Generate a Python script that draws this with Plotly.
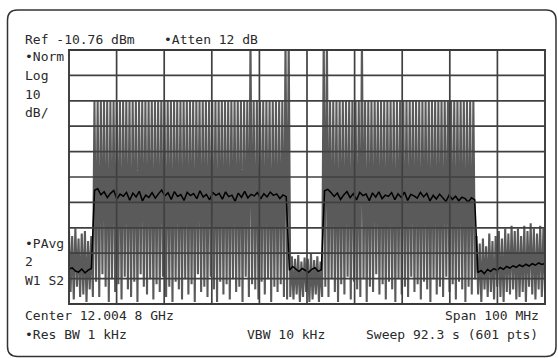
import numpy as np
import plotly.graph_objects as go

# Analyzer settings shown on screen
center_ghz = 12.0048
span_ghz = 0.100
ref_dbm = -10.76
db_per_div = 10
n_div = 10

# Peak-hold trace, one (peak, valley) pair per display bin, dBm
peak_dbm = [
    -82, -84, -81, -85, -83, -82, -86, -84,
    -30.8, -30.8, -30.8, -30.8, -30.8, -30.8, -30.8, -30.8, -30.8, -30.8,
    -30.8, -30.8, -30.8, -30.8, -30.8, -30.8, -30.8, -30.8, -30.8, -30.8,
    -30.8, -30.8, -30.8, -30.8, -30.8, -30.8, -30.8, -30.8, -30.8, -30.8,
    -30.8, -30.8, -30.8, -30.8, -30.8, -30.8, -30.8, -30.8, -30.8, -30.8,
    -30.8, -30.8, -30.8, -30.8, -30.8, -30.8, -30.8, -30.8, -30.8, -6,
    -30.8, -30.8, -30.8, -30.8, -30.8, -30.8, -30.8, -30.8, -30.8, -30.8,
    -6,
    -6,
    -92, -93, -91.5, -94, -92.5, -93, -91, -93.5, -92, -94,
    -6, -6,
    -30.8, -30.8, -30.8, -30.8, -30.8, -30.8, -30.8, -30.8, -30.8, -30.8,
    -6,
    -30.8, -30.8, -30.8, -30.8, -30.8, -30.8, -30.8, -30.8, -30.8, -30.8,
    -30.8, -30.8, -30.8, -30.8, -30.8, -30.8, -30.8, -30.8, -30.8, -30.8,
    -30.8, -30.8, -30.8, -30.8, -30.8, -30.8, -30.8, -30.8, -30.8, -30.8,
    -30.8, -30.8, -30.8, -30.8, -30.8,
    -84, -87, -85, -88, -83, -86, -84, -82, -85, -81, -83,
    -80, -82, -81, -84, -80, -82, -79, -81, -83, -80, -81,
]

valley_dbm = [
    -106, -109, -104, -108, -107, -110, -105, -108,
    -102, -108, -99, -104, -110, -101, -106, -103, -109, -100,
    -105, -108, -102, -110, -99, -104, -107, -101, -109, -103,
    -106, -100, -108, -104, -110, -102, -105, -109, -101, -107,
    -103, -110, -99, -106, -104, -108, -100, -105, -110, -102,
    -107, -103, -109, -101, -106, -104, -110, -100, -108, -103,
    -105, -109, -102, -107, -101, -110, -104, -106, -103, -108,
    -109,
    -108,
    -109, -107, -110, -108, -106, -110, -109, -107, -110, -108,
    -104, -108, -101, -106, -110, -103, -107, -100, -109, -102,
    -105, -108, -101, -110, -104, -106, -99, -107, -103, -109,
    -102, -105, -110, -101, -107, -104, -108, -100, -106, -103,
    -109, -102, -105, -110, -101, -107, -104, -108, -100, -106,
    -103, -109, -102, -105, -110, -104, -107, -101,
    -107, -110, -105, -108, -106, -109, -104, -108, -110, -106, -107,
    -105, -109, -108, -106, -110, -104, -107, -109, -105, -108, -106,
]

# Power-averaged trace (W1 S2), dBm per display bin
avg_dbm = [
    -97.0, -96.5, -97.8, -98.2, -97.0, -98.5, -97.4, -96.8,
    -66.0, -65.4, -67.8, -66.6, -68.9, -67.2, -66.1, -69.4, -67.5, -68.3,
    -66.8, -69.9, -67.1, -68.6, -66.4, -70.2, -67.9, -68.8, -66.9, -69.1,
    -67.4, -65.9, -68.2, -67.0, -69.6, -66.5, -68.4, -67.7, -70.0, -66.8,
    -68.1, -67.3, -69.3, -66.2, -68.7, -67.6, -69.8, -66.9, -68.0, -67.2,
    -69.5, -66.6, -68.5, -67.9, -70.3, -67.1, -68.8, -66.4, -69.0, -67.6,
    -68.2, -66.9, -69.4, -67.3, -68.6, -66.7, -68.0, -67.4, -69.2, -67.8,
    -68.5,
    -97.5, -96.0, -97.2, -98.0, -96.8, -97.6, -98.3, -97.1, -96.5, -97.9, -97.3,
    -66.2, -65.6, -66.9, -68.4, -67.1, -69.6, -67.8, -66.5, -68.9, -67.3,
    -69.8, -66.8, -68.1, -67.5, -70.1, -67.0, -68.7, -66.6, -69.3, -67.9,
    -68.4, -66.9, -69.7, -67.4, -68.8, -66.7, -70.0, -67.6, -68.2, -69.1,
    -66.8, -68.6, -67.2, -70.2, -68.0, -69.4, -67.5, -68.9, -70.4, -67.8,
    -69.6, -68.3, -70.1, -68.7, -69.3, -70.6, -68.9, -69.8,
    -98.4, -97.6, -98.8, -97.2, -97.9, -96.8, -97.5, -96.4, -97.1, -96.0, -96.6,
    -95.7, -96.3, -95.4, -96.0, -95.1, -95.8, -94.9, -95.5, -94.6, -95.2, -94.8,
]

W, H = 558, 358
L, R, T, B = 69, 13, 50, 54
PW, PH = W - L - R, H - T - B
FONT = "DejaVu Sans Mono"
INK = "#2a2a2a"
GRID = "#404040"

n_bins = len(peak_dbm)
f_lo, f_hi = center_ghz - span_ghz / 2, center_ghz + span_ghz / 2

# zig-zag peak/valley sweep points
zig_x = np.linspace(f_lo, f_hi, 2 * n_bins)
zig_y = np.empty(2 * n_bins)
zig_y[0::2] = peak_dbm
zig_y[1::2] = valley_dbm
avg_x = np.linspace(f_lo, f_hi, len(avg_dbm))

fig = go.Figure()
fig.add_trace(go.Scatter(
    x=zig_x, y=zig_y, mode="lines",
    line=dict(color="#5a5a5a", width=2.1), hoverinfo="skip",
))
fig.add_trace(go.Scatter(
    x=avg_x, y=avg_dbm, mode="lines",
    line=dict(color="#000000", width=1.5), hoverinfo="skip",
))

y_top = ref_dbm
y_bot = ref_dbm - db_per_div * n_div

shapes = []
# graticule
for k in range(1, n_div):
    xv = f_lo + k * span_ghz / n_div
    shapes.append(dict(type="line", xref="x", yref="paper", x0=xv, x1=xv, y0=0, y1=1,
                       line=dict(color=GRID, width=1.7), layer="above"))
    yv = y_top - k * db_per_div
    shapes.append(dict(type="line", xref="paper", yref="y", x0=0, x1=1, y0=yv, y1=yv,
                       line=dict(color=GRID, width=1.7), layer="above"))
shapes.append(dict(type="rect", xref="paper", yref="paper", x0=0, x1=1, y0=0, y1=1,
                   line=dict(color="#3a3a3a", width=1.9), layer="above"))


def px(xp):
    return (xp - L) / PW


def py(yp):
    return (T + PH - yp) / PH


# rounded bezel around the screen
x0, x1, y0, y1, r = 7.5, 556.0, 10.0, 356.5, 10.0
pts = [
    f"M {px(x0 + r)},{py(y0)}",
    f"L {px(x1 - r)},{py(y0)}",
    f"Q {px(x1)},{py(y0)} {px(x1)},{py(y0 + r)}",
    f"L {px(x1)},{py(y1 - r)}",
    f"Q {px(x1)},{py(y1)} {px(x1 - r)},{py(y1)}",
    f"L {px(x0 + r)},{py(y1)}",
    f"Q {px(x0)},{py(y1)} {px(x0)},{py(y1 - r)}",
    f"L {px(x0)},{py(y0 + r)}",
    f"Q {px(x0)},{py(y0)} {px(x0 + r)},{py(y0)} Z",
]
shapes.append(dict(type="path", xref="paper", yref="paper", path=" ".join(pts),
                   line=dict(color="#333333", width=1.5), layer="below"))

labels = [
    ("Ref -10.76 dBm", 23, 39, "left"),
    ("•Atten 12 dB", 162, 39, "left"),
    ("•Norm", 23, 57, "left"),
    ("Log", 23, 75, "left"),
    ("10", 23, 94, "left"),
    ("dB/", 23, 112, "left"),
    ("•PAvg", 23, 243, "left"),
    ("2", 23, 261, "left"),
    ("W1 S2", 23, 280, "left"),
    ("Center 12.004 8 GHz", 23, 315, "left"),
    ("•Res BW 1 kHz", 23, 334, "left"),
    ("VBW 10 kHz", 245, 334, "left"),
    ("Span 100 MHz", 541, 315, "right"),
    ("Sweep 92.3 s (601 pts)", 540, 334, "right"),
]
annotations = [
    dict(text=t, x=px(xp), y=py(yp), xref="paper", yref="paper",
         xanchor=anc, yanchor="middle", showarrow=False,
         font=dict(family=FONT, size=13, color=INK))
    for t, xp, yp, anc in labels
]

fig.update_layout(
    width=W, height=H, autosize=False,
    margin=dict(l=L, r=R, t=T, b=B, pad=0),
    paper_bgcolor="white", plot_bgcolor="white",
    showlegend=False,
    shapes=shapes, annotations=annotations,
    xaxis=dict(range=[f_lo, f_hi], showgrid=False, zeroline=False,
               showticklabels=False, ticks="", showline=False, fixedrange=True),
    yaxis=dict(range=[y_bot, y_top], showgrid=False, zeroline=False,
               showticklabels=False, ticks="", showline=False, fixedrange=True),
)

fig.write_html("out.html", config={"displayModeBar": False})
